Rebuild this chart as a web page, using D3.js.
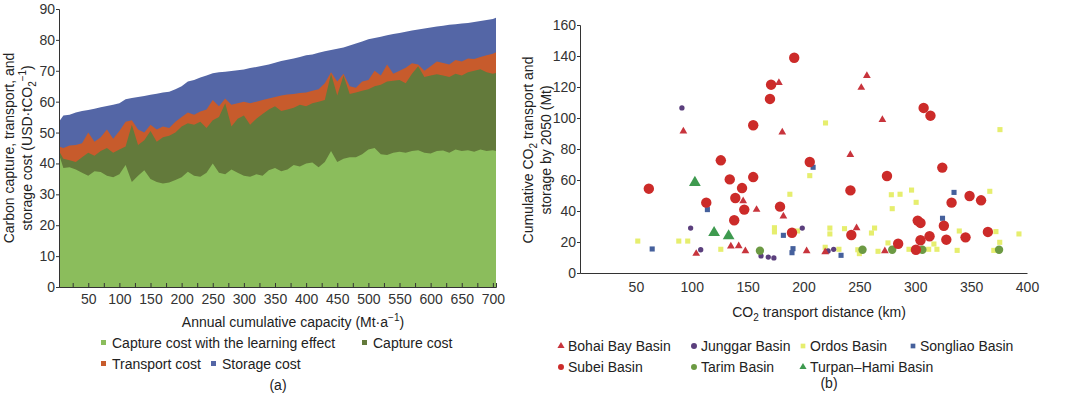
<!DOCTYPE html>
<html>
<head>
<meta charset="utf-8">
<script src="https://cdn.jsdelivr.net/npm/d3@7"></script>
<style>
  body { margin: 0; background: #fff; }
  svg { display: block; font-family: "Liberation Sans", Arial, sans-serif; }
  .tick text { font-size: 14px; fill: #333; }
  .domain { stroke: #333; }
</style>
</head>
<body>
<svg id="chart" width="1080" height="399"></svg>
<script>
// ---- (a) cost curves ----
const capacity = [3,10,20,30,40,50,60,70,80,90,100,110,120,130,140,150,160,170,180,190,200,
  210,220,230,240,250,260,270,280,290,300,310,320,330,340,350,360,370,380,390,400,
  410,420,430,440,450,460,470,480,490,500,510,520,530,540,550,560,570,580,590,600,
  610,620,630,640,650,660,670,680,690,700,705];
const learningCapture = [43.0,38.5,38.8,38.0,37.0,36.0,37.5,37.2,36.0,35.5,36.5,39.5,34.0,36.0,37.8,35.0,34.0,33.5,33.8,34.6,35.5,
  37.3,36.0,35.7,37.0,40.0,37.0,36.5,38.0,37.0,36.0,35.7,36.5,36.0,37.8,38.5,37.5,38.0,39.5,39.0,40.0,
  40.3,38.8,40.5,44.0,40.5,41.5,42.0,42.0,43.0,44.5,45.0,43.0,42.7,43.5,43.8,43.5,44.0,44.3,43.5,43.2,
  44.0,44.2,43.5,44.5,44.0,44.3,43.8,44.5,44.0,44.3,44.0];
const captureCost = [44.0,41.5,41.0,40.5,42.0,43.5,42.5,44.0,45.0,43.5,44.5,45.5,52.5,46.0,47.5,50.5,47.0,48.5,49.0,50.0,52.0,
  53.0,52.5,53.5,51.5,54.0,55.0,59.5,52.0,54.5,55.5,52.5,54.5,56.0,57.5,58.5,57.0,57.5,58.0,59.0,58.5,
  59.5,60.0,60.5,69.0,62.0,68.5,62.5,63.0,63.5,64.0,65.0,65.5,66.5,66.8,67.0,66.0,69.0,71.5,68.0,68.5,
  68.9,68.5,68.0,69.0,68.5,69.5,70.0,70.5,69.5,69.0,69.3];
const transportCost = [1.5,3.5,4.8,5.5,4.5,6.5,4.5,4.5,6.0,4.5,6.0,8.0,1.5,5.0,2.5,2.0,4.0,3.5,2.5,3.5,3.0,
  3.5,3.3,3.3,6.0,6.5,3.5,1.5,7.0,5.0,4.5,7.0,5.5,4.5,3.5,3.0,5.0,4.8,4.5,3.8,4.5,
  4.0,4.0,5.5,0.5,4.5,0.5,2.5,1.5,3.0,3.0,5.0,3.0,5.5,2.2,3.0,5.0,3.4,0.5,2.0,3.0,
  4.1,4.0,4.0,4.5,4.5,4.5,3.8,4.0,5.5,6.5,6.7];
const storageCost = [8.0,10.5,10.0,10.5,10.5,7.3,10.7,9.7,7.6,11.0,9.0,7.3,7.2,10.5,11.8,9.7,11.6,11.0,11.7,10.5,10.0,
  10.0,11.2,11.0,11.0,8.7,11.0,8.7,10.9,10.7,10.4,11.4,11.2,11.1,11.0,11.1,11.2,11.3,11.5,11.7,12.0,
  11.8,11.8,10.3,7.2,10.6,8.5,13.2,14.3,13.0,13.2,10.6,12.5,9.5,12.9,12.2,11.6,10.6,11.4,13.7,12.5,
  11.3,12.1,12.9,11.6,12.3,11.5,12.0,11.6,11.4,11.3,11.2];

// ---- (b) basins: [distance km, cumulative Mt] ----
const bohai = [[92.5,91.4],[178,122.8],[181,90.8],[146,46.5],[158,40.9],[182,36.6],[104,12.5],[135,17.2],
  [142,17.4],[148,14.2],[256.7,127.3],[251.7,119.6],[270.6,98.9],[241.9,76.3],[247.5,29],[202.8,14.2],
  [219.4,13.5],[272.8,14.2]];
const junggar = [[91.2,106.5],[99,29],[108,15],[162,11],[168.5,10.3],[173.5,9.7],[198.9,29],[222,14.2],[227,15.3]];
const ordos = [[219.7,96.8],[375.8,92.5],[205.6,62.8],[187.8,50.8],[278.6,50.5],[286.4,50.8],[296.7,53.5],
  [366.7,52.7],[300.8,45.6],[279.4,41.5],[174,29.2],[174,26.5],[223.6,29],[236.7,28.6],[263.6,29],
  [194.7,27.1],[223.6,25.2],[260.8,25.8],[372.2,26.7],[339.4,27.1],[275.6,19.4],[316.7,18.7],[375.6,19.8],
  [51.7,20.6],[88.4,20.6],[96.4,20.6],[126,15.3],[219.4,16.6],[231.7,15.3],[248.6,15],[250,12.5],
  [266.7,14],[294.4,15.3],[312,15.3],[319.4,15.3],[337.5,14.6],[370.3,14.6],[392.8,25.2]];
const songliao = [[114,40.9],[182,24.3],[64.6,15.5],[208.6,68.2],[334.7,52],[324.4,35.3],[190.6,15.7],
  [233.6,11.4],[189.7,13.1]];
const subei = [[171,121.5],[170,112.3],[155,95.3],[126,72.7],[61.6,54.4],[134,60.4],[155,61.9],[145,54.8],
  [139,48.4],[113,45.4],[147,40.9],[179,42.8],[138,34],[191.7,138.9],[307.5,106.5],[313.6,101.5],
  [205.6,71.6],[324.2,68],[274.7,62.6],[242,53.3],[348.6,49.7],[358.9,46.9],[332.5,45.4],[302.2,33.8],
  [304.7,32.3],[325.6,30.5],[189.7,26],[242.8,24.5],[365,26.5],[312.8,23.7],[304.7,21.1],[327.8,21.5],
  [345,23],[284.7,18.9],[300.6,15]];
const tarim = [[161,14.4],[252.8,15],[279.4,15],[306.4,15],[375,15]];
const turpan = [[102.8,58.3],[120,26],[133,23.9]];

const svg = d3.select('#chart');

// ===== panel (a) =====
const xA = d3.scaleLinear().domain([3, 705]).range([59, 496]);
const yA = d3.scaleLinear().domain([0, 90]).range([287, 9]);

const rows = capacity.map((c, i) => ({
  x: c,
  learn: learningCapture[i],
  cap: captureCost[i],
  capTr: captureCost[i] + transportCost[i],
  total: captureCost[i] + transportCost[i] + storageCost[i]
}));

const layers = [
  { key: 'total', color: '#5466a6' },
  { key: 'capTr', color: '#c75b2c' },
  { key: 'cap', color: '#637a3b' },
  { key: 'learn', color: '#8bbd5c' }
];
const gA = svg.append('g');
layers.forEach((l) => {
  const area = d3.area()
    .x((d) => xA(d.x))
    .y0(yA(0))
    .y1((d) => yA(d[l.key]));
  gA.append('path').datum(rows).attr('d', area).attr('fill', l.color);
});

const yAxisA = gA.append('g').attr('transform', `translate(${xA(3)},0)`)
  .call(d3.axisLeft(yA).tickValues(d3.range(0, 91, 10)).tickSize(3).tickPadding(1));
yAxisA.selectAll('line').attr('stroke', '#333');

const xAxisA = gA.append('g').attr('transform', `translate(0,${yA(0)})`)
  .call(d3.axisBottom(xA).tickValues(d3.range(25, 701, 25)).tickSize(-4).tickPadding(7)
    .tickFormat((d) => d % 50 === 0 ? d : ''));
xAxisA.selectAll('line').attr('stroke', '#333');

function subsup(t, parts) {
  parts.forEach((p) => {
    const ts = t.append('tspan').text(p.t);
    if (p.sub) ts.attr('font-size', 10).attr('dy', 4);
    if (p.sup) ts.attr('font-size', 10).attr('dy', p.dy);
    if (p.back) ts.attr('dy', p.back);
  });
}

const ylabA = svg.append('g').attr('font-size', 14).attr('fill', '#222').attr('text-anchor', 'middle');
ylabA.append('text').attr('transform', 'translate(14,148) rotate(-90)').text('Carbon capture, transport, and');
subsup(ylabA.append('text').attr('transform', 'translate(32,148) rotate(-90)'), [
  { t: 'storage cost (USD·tCO' }, { t: '2', sub: true }, { t: '−1', sup: true, dy: -10 }, { t: ')', back: 6 }
]);

subsup(svg.append('text').attr('x', 293).attr('y', 327).attr('font-size', 14).attr('fill', '#222')
  .attr('text-anchor', 'middle'), [
  { t: 'Annual cumulative capacity (Mt·a' }, { t: '−1', sup: true, dy: -6 }, { t: ')', back: 6 }
]);

const legA = [
  { label: 'Capture cost with the learning effect', color: '#8bbd5c', x: 101, y: 343 },
  { label: 'Capture cost', color: '#637a3b', x: 362, y: 343 },
  { label: 'Transport cost', color: '#c75b2c', x: 101, y: 364 },
  { label: 'Storage cost', color: '#5466a6', x: 211, y: 364 }
];
legA.forEach((d) => {
  svg.append('rect').attr('x', d.x).attr('y', d.y - 3).attr('width', 5).attr('height', 5).attr('fill', d.color);
  svg.append('text').attr('x', d.x + 11).attr('y', d.y + 5).attr('font-size', 14).attr('fill', '#222').text(d.label);
});
svg.append('text').attr('x', 278).attr('y', 390).attr('font-size', 14).attr('fill', '#222')
  .attr('text-anchor', 'middle').text('(a)');

// ===== panel (b) =====
const xB = d3.scaleLinear().domain([0, 400]).range([580, 1027]);
const yB = d3.scaleLinear().domain([0, 160]).range([273, 25]);
const gB = svg.append('g');

const yAxisB = gB.append('g').attr('transform', `translate(${xB(0)},0)`)
  .call(d3.axisLeft(yB).tickValues(d3.range(0, 161, 20)).tickSize(3).tickPadding(1));
yAxisB.selectAll('line').attr('stroke', '#333');
gB.append('g').attr('transform', `translate(0,${yB(0)})`)
  .call(d3.axisBottom(xB).tickValues(d3.range(50, 401, 50)).tickSize(0).tickPadding(9));

const basins = [
  { name: 'Ordos Basin', data: ordos, shape: d3.symbolSquare, size: 26, color: '#e6ee6e' },
  { name: 'Songliao Basin', data: songliao, shape: d3.symbolSquare, size: 26, color: '#45609c' },
  { name: 'Junggar Basin', data: junggar, shape: d3.symbolCircle, size: 22, color: '#5b3f7d' },
  { name: 'Tarim Basin', data: tarim, shape: d3.symbolCircle, size: 55, color: '#6c9a43' },
  { name: 'Bohai Bay Basin', data: bohai, shape: d3.symbolTriangle, size: 26, color: '#c8343c' },
  { name: 'Subei Basin', data: subei, shape: d3.symbolCircle, size: 85, color: '#cc2b29' },
  { name: 'Turpan–Hami Basin', data: turpan, shape: d3.symbolTriangle, size: 60, color: '#3e9a4f' }
];
basins.forEach((b) => {
  gB.append('g').selectAll('path').data(b.data).join('path')
    .attr('transform', (d) => `translate(${xB(d[0])},${yB(d[1])})`)
    .attr('d', d3.symbol().type(b.shape).size(b.size))
    .attr('fill', b.color);
});

const ylabB = svg.append('g').attr('font-size', 14).attr('fill', '#222').attr('text-anchor', 'middle');
subsup(ylabB.append('text').attr('transform', 'translate(533,150) rotate(-90)'), [
  { t: 'Cumulative CO' }, { t: '2', sub: true }, { t: ' transport and', back: -4 }
]);
ylabB.append('text').attr('transform', 'translate(551,150) rotate(-90)').text('storage by 2050 (Mt)');

subsup(svg.append('text').attr('x', 819).attr('y', 317).attr('font-size', 14).attr('fill', '#222')
  .attr('text-anchor', 'middle'), [
  { t: 'CO' }, { t: '2', sub: true }, { t: ' transport distance (km)', back: -4 }
]);

const legB = [
  { i: 4, x: 561, y: 346 }, { i: 2, x: 694, y: 346 }, { i: 0, x: 803, y: 346 }, { i: 1, x: 913, y: 346 },
  { i: 5, x: 561, y: 367 }, { i: 3, x: 694, y: 367 }, { i: 6, x: 803, y: 367 }
];
legB.forEach((d) => {
  const b = basins[d.i];
  svg.append('path').attr('transform', `translate(${d.x},${d.y})`)
    .attr('d', d3.symbol().type(b.shape).size(b.shape === d3.symbolCircle ? 28 : 22)).attr('fill', b.color);
  svg.append('text').attr('x', d.x + 7).attr('y', d.y + 5).attr('font-size', 14).attr('fill', '#222').text(b.name);
});
svg.append('text').attr('x', 829).attr('y', 388).attr('font-size', 14).attr('fill', '#222')
  .attr('text-anchor', 'middle').text('(b)');
</script>
</body>
</html>
